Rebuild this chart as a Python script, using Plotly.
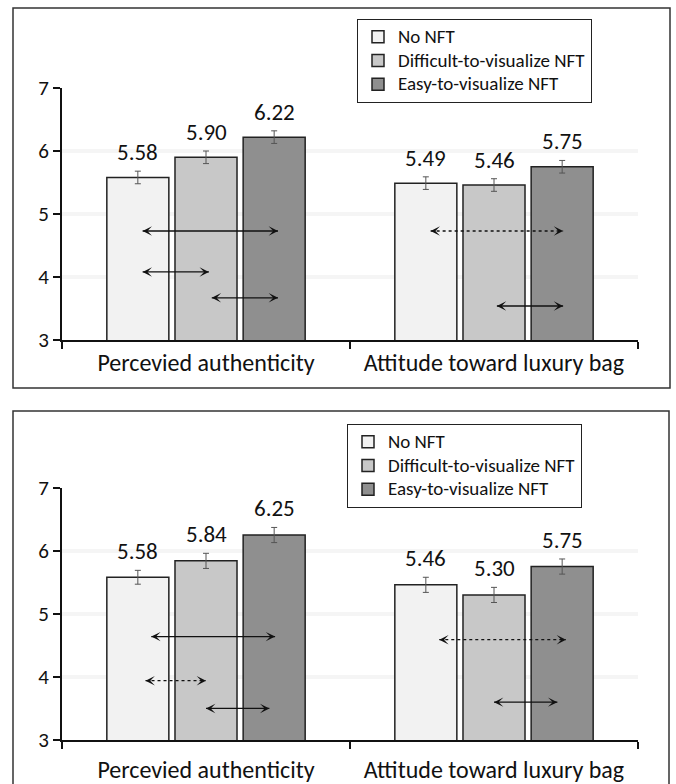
import plotly.graph_objects as go

# ---------------- data ----------------
categories = ["Percevied authenticity", "Attitude toward luxury bag"]
conditions = ["No NFT", "Difficult-to-visualize NFT", "Easy-to-visualize NFT"]
bar_colors = ["#f2f2f2", "#c8c8c8", "#8f8f8f"]

top_no = [5.58, 5.49]
top_difficult = [5.90, 5.46]
top_easy = [6.22, 5.75]
top_err_no = [0.10, 0.10]
top_err_difficult = [0.10, 0.10]
top_err_easy = [0.10, 0.10]

bottom_no = [5.58, 5.46]
bottom_difficult = [5.84, 5.30]
bottom_easy = [6.25, 5.75]
bottom_err_no = [0.11, 0.12]
bottom_err_difficult = [0.12, 0.12]
bottom_err_easy = [0.12, 0.12]

y_ticks = [3, 4, 5, 6, 7]

# comparison arrows: (category index, start offset, end offset, y level, line style)
top_arrows = [
    (0, -0.22, 0.25, 4.73, "solid"),
    (0, -0.22, 0.01, 4.08, "solid"),
    (0, 0.02, 0.25, 3.67, "solid"),
    (1, -0.22, 0.24, 4.73, "dot"),
    (1, 0.01, 0.24, 3.54, "solid"),
]
bottom_arrows = [
    (0, -0.19, 0.24, 4.64, "solid"),
    (0, -0.21, 0.00, 3.94, "dot"),
    (0, 0.00, 0.22, 3.50, "solid"),
    (1, -0.19, 0.25, 4.59, "dot"),
    (1, 0.00, 0.22, 3.60, "solid"),
]

# ---------------- layout constants ----------------
W, H = 676, 784
FONT = "Carlito, Lato, sans-serif"
BARGAP = 0.29
SLOT = (1 - BARGAP) / 3
LEGEND_TEXT_PX = 19

panels = [
    dict(xa="x", ya="y", legend="legend",
         series=[top_no, top_difficult, top_easy],
         errs=[top_err_no, top_err_difficult, top_err_easy],
         arrows=top_arrows),
    dict(xa="x2", ya="y2", legend="legend2",
         series=[bottom_no, bottom_difficult, bottom_easy],
         errs=[bottom_err_no, bottom_err_difficult, bottom_err_easy],
         arrows=bottom_arrows),
]

fig = go.Figure()
annotations = []
shapes = []

for p in panels:
    for i, (name, vals, errs, col) in enumerate(zip(conditions, p["series"], p["errs"], bar_colors)):
        fig.add_trace(go.Bar(
            x=list(range(len(categories))), y=vals,
            name=f"<span style='font-size:{LEGEND_TEXT_PX}px'>{name}</span>",
            xaxis=p["xa"], yaxis=p["ya"], legend=p["legend"],
            marker=dict(color=col, line=dict(color="#222222", width=1.5)),
            error_y=dict(type="data", array=errs, color="#555555", thickness=1, width=3),
            hoverinfo="skip",
        ))
        for j, (v, e) in enumerate(zip(vals, errs)):
            annotations.append(dict(
                x=j + (i - 1) * SLOT, y=v + e, xref=p["xa"], yref=p["ya"],
                text=f"{v:.2f}", showarrow=False, yanchor="bottom", yshift=3,
                font=dict(size=23, family=FONT, color="#111111"),
            ))
    for (cat, x0, x1, yv, dash) in p["arrows"]:
        shapes.append(dict(type="line", xref=p["xa"], yref=p["ya"],
                           x0=cat + x0, x1=cat + x1, y0=yv, y1=yv,
                           line=dict(color="#111111", width=1.3, dash=dash)))
        for tip, tail in ((cat + x0, cat + x0 + 0.015), (cat + x1, cat + x1 - 0.015)):
            annotations.append(dict(
                x=tip, y=yv, ax=tail, ay=yv, xref=p["xa"], yref=p["ya"],
                axref=p["xa"], ayref=p["ya"], text="", showarrow=True,
                arrowhead=3, arrowsize=1.2, arrowwidth=1.3, arrowcolor="#111111",
            ))

# panel frames
shapes.append(dict(type="rect", xref="paper", yref="paper",
                   x0=13 / W, x1=670 / W, y0=1 - 388 / H, y1=1 - 8 / H,
                   line=dict(color="#333333", width=1.5)))
shapes.append(dict(type="rect", xref="paper", yref="paper",
                   x0=13 / W, x1=669 / W, y0=-0.02, y1=1 - 411 / H,
                   line=dict(color="#333333", width=1.5)))

xdom = [62 / W, 638 / W]
ydoms = [[1 - 340 / H, 1 - 88 / H], [1 - 740 / H, 1 - 487.7 / H]]

def xaxis_cfg(anchor, standoff):
    return dict(
        domain=xdom, anchor=anchor, range=[-0.5, 1.5],
        tickmode="array", tickvals=list(range(len(categories))), ticktext=categories,
        ticks="", showline=True, linecolor="#111111", linewidth=2,
        showgrid=False, zeroline=False, automargin=False,
        ticklabelstandoff=standoff,
        tickfont=dict(size=24, family=FONT, color="#111111"),
        minor=dict(tickmode="array", tickvals=[-0.5, 0.5, 1.5], ticks="outside",
                   ticklen=7, tickwidth=2, tickcolor="#111111", showgrid=False),
        fixedrange=True,
    )

def yaxis_cfg(anchor, dom):
    return dict(
        domain=dom, anchor=anchor, range=[3, 7], tickmode="array", tickvals=y_ticks,
        ticks="outside", ticklen=7, tickwidth=2, tickcolor="#111111",
        showline=True, linecolor="#111111", linewidth=2,
        showgrid=True, gridcolor="#f5f5f5", gridwidth=4, zeroline=False,
        automargin=False, tickfont=dict(size=21, family=FONT, color="#111111"),
        fixedrange=True,
    )

legend_common = dict(
    xanchor="left", yanchor="top", bgcolor="white", bordercolor="#222222",
    borderwidth=1, font=dict(size=15.9, family=FONT, color="#111111"),
    traceorder="normal", tracegroupgap=0,
)

fig.update_layout(
    width=W, height=H, margin=dict(l=0, r=0, t=0, b=0),
    paper_bgcolor="white", plot_bgcolor="white",
    barmode="group", bargap=BARGAP, bargroupgap=0.09,
    showlegend=True,
    xaxis=xaxis_cfg("y", 0), yaxis=yaxis_cfg("x", ydoms[0]),
    xaxis2=xaxis_cfg("y2", 7), yaxis2=yaxis_cfg("x2", ydoms[1]),
    legend=dict(x=357 / W, y=1 - 19 / H, **legend_common),
    legend2=dict(x=347 / W, y=1 - 424 / H, **legend_common),
    annotations=annotations, shapes=shapes,
    font=dict(family=FONT, color="#111111"),
)

fig.write_html(
    "out.html",
    config={"displayModeBar": False, "staticPlot": True},
    post_script="document.body.style.margin='0';document.body.style.overflow='hidden';",
)
